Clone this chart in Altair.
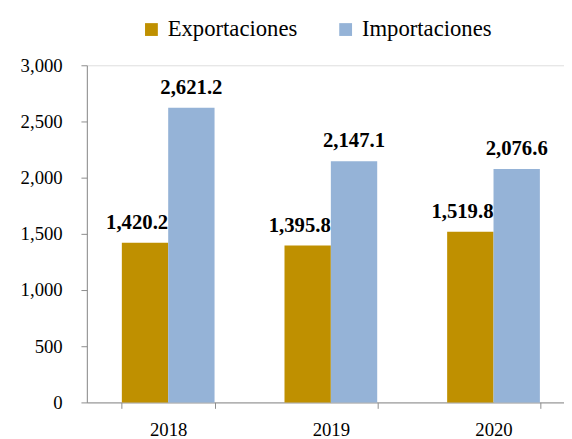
import altair as alt
import pandas as pd

years = ["2018", "2019", "2020"]
series = ["Exportaciones", "Importaciones"]
exportaciones = [1420.2, 1395.8, 1519.8]
importaciones = [2621.2, 2147.1, 2076.6]
y_ticks = [0, 500, 1000, 1500, 2000, 2500, 3000]
colors = ["#BF9000", "#95B3D7"]

rows = []
for i, yr in enumerate(years):
    rows.append({"year": yr, "serie": series[0], "valor": exportaciones[i]})
    rows.append({"year": yr, "serie": series[1], "valor": importaciones[i]})
df = pd.DataFrame(rows)

FONT = "Liberation Serif"
GREY = "#8c8c8c"

x_enc = alt.X(
    "year:N", title=None, sort=years,
    scale=alt.Scale(paddingInner=0.43, paddingOuter=0.215),
    axis=alt.Axis(labelAngle=0, tickBand="extent", labelFont=FONT, labelFontSize=19,
                  labelColor="#000", labelPadding=13, tickSize=6, tickColor=GREY,
                  domainColor=GREY, labelBaseline="top"),
)
xoff = alt.XOffset("serie:N", sort=series, scale=alt.Scale(paddingInner=0, paddingOuter=0))
y_enc = alt.Y(
    "valor:Q", title=None,
    scale=alt.Scale(domain=[0, 3000], nice=False),
    axis=alt.Axis(values=y_ticks, format=",.0f", grid=False, labelFont=FONT, labelFontSize=19,
                  labelColor="#000", labelPadding=19, tickSize=6, tickColor=GREY,
                  domainColor=GREY, minExtent=75, maxExtent=75),
)
color_enc = alt.Color(
    "serie:N", sort=series, title=None,
    scale=alt.Scale(domain=series, range=colors),
    legend=alt.Legend(orient="none", legendX=54, legendY=-48, direction="horizontal",
                      columns=2, symbolType="square", symbolSize=169, symbolStrokeWidth=0,
                      labelFont=FONT, labelFontSize=23, labelColor="#000", labelOffset=5,
                      columnPadding=37, padding=0),
)

base = alt.Chart(df)
bars = base.mark_bar().encode(x=x_enc, xOffset=xoff, y=y_enc, color=color_enc)

def labels(name, dx):
    return base.transform_filter(alt.datum.serie == name).mark_text(
        font=FONT, fontSize=21, fontWeight="bold", color="#000",
        baseline="alphabetic", dy=-14, dx=dx,
    ).encode(x=x_enc, xOffset=xoff, y=y_enc, text=alt.Text("valor:Q", format=",.1f"))

chart = alt.layer(bars, labels(series[0], -8), labels(series[1], 0)).properties(
    width=495, height=342,
    autosize=alt.AutoSizeParams(type="none"),
    padding={"left": 80, "top": 55, "right": -11, "bottom": 34},
).configure_view(stroke=None).configure(background="#ffffff")

chart.save("out.html", embed_options={"renderer": "svg", "actions": False})
